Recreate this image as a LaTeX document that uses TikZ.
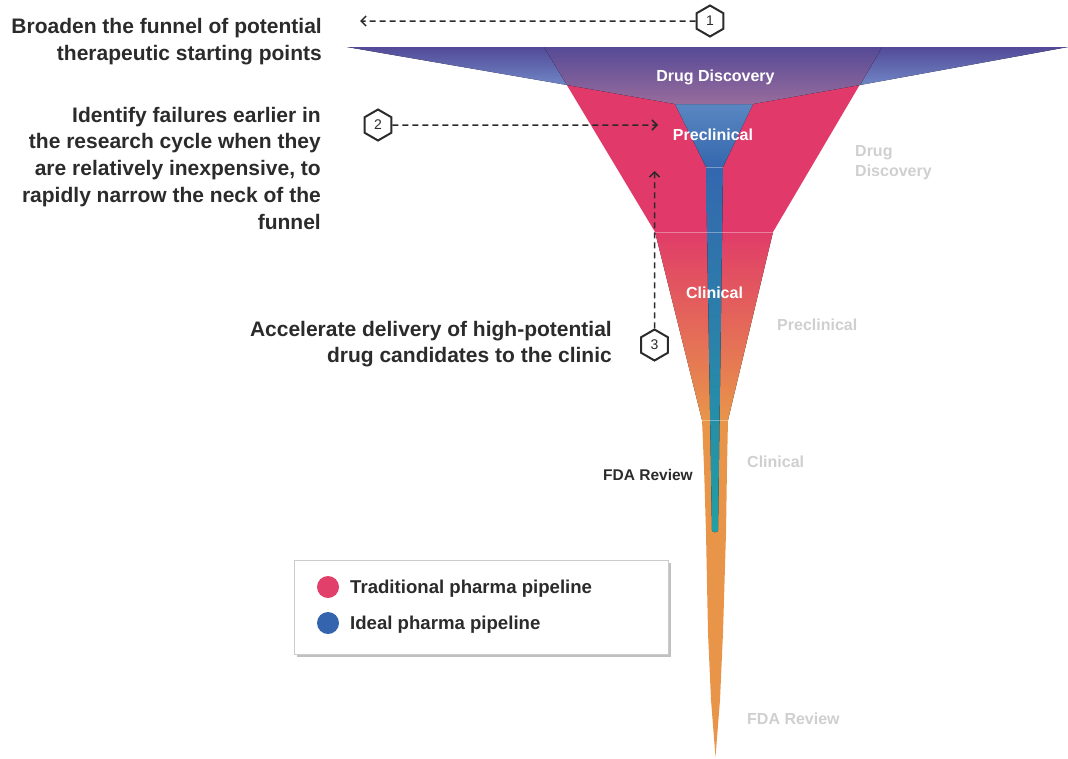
\documentclass[tikz,border=0pt]{standalone}
\usepackage{fontspec}
\setmainfont{Liberation Sans}
\usetikzlibrary{arrows.meta,shapes.geometric,shadows}

\definecolor{ink}{HTML}{2B2B2B}
\definecolor{pharmared}{HTML}{E0396A}
\definecolor{clinred}{HTML}{E03C68}
\definecolor{clinmid}{HTML}{E2655F}
\definecolor{pharmaorange}{HTML}{E8954A}
\definecolor{purpletop}{HTML}{534A98}
\definecolor{wingbottom}{HTML}{6F86C5}
\definecolor{coretop}{HTML}{564A97}
\definecolor{corebottom}{HTML}{986C9C}
\definecolor{bluelight}{HTML}{5A87C2}
\definecolor{bluemid}{HTML}{3467AE}
\definecolor{bluestem}{HTML}{2C7DAE}
\definecolor{tealend}{HTML}{1FA0A6}
\definecolor{stagegray}{HTML}{CFCFCF}
\definecolor{legendred}{HTML}{E0406A}
\definecolor{legendblue}{HTML}{3564AE}

\tikzset{
  annot/.style={inner sep=0pt, text=ink, align=right,
    font=\fontsize{21}{26.7}\selectfont\bfseries},
  stagelabel/.style={inner sep=0pt, text=white, font=\fontsize{16}{19}\selectfont\bfseries},
  graylabel/.style={inner sep=0pt, text=stagegray, align=left,
    font=\fontsize{16}{20}\selectfont\bfseries},
  hexmark/.style={regular polygon, regular polygon sides=6, shape border rotate=30,
    draw=ink, line width=2pt, fill=white, minimum size=31pt, inner sep=0pt,
    text=ink, font=\fontsize{14}{14}\selectfont},
  pointer/.style={draw=ink, line width=1.5pt, dash pattern=on 6pt off 4pt,
    -{Straight Barb[length=5pt,width=10pt,line width=1.5pt]}},
  legendbox/.style={draw=black!20, fill=white, line width=0.8pt,
    minimum width=374pt, minimum height=94pt, inner sep=0pt,
    drop shadow={shadow xshift=2.5pt, shadow yshift=-3pt, opacity=0.45, fill=black!55}},
  legendtext/.style={inner sep=0pt, text=ink, font=\fontsize{18.6}{22}\selectfont\bfseries},
  dot/.style={circle, inner sep=0pt, minimum size=22pt},
  seam/.style={draw=white, opacity=0.35, line width=0.7pt}
}

\begin{document}
\begin{tikzpicture}[x=1pt, y=-1pt]
\useasboundingbox (0,0) rectangle (1068,758);

% traditional pipeline: preclinical body, clinical neck and FDA tail
\fill[pharmared] (544,47) -- (882,47) -- (773,232) -- (655,232) -- cycle;
\fill[top color=clinred, middle color=clinmid, bottom color=pharmaorange]
  (655,232) -- (773,232) -- (728,420) -- (702,420) -- cycle;
\fill[pharmaorange] (702,420) -- (728,420) -- (727,467) -- (726,533) -- (723,633)
  -- (720,700) -- (715.5,757) -- (711,700) -- (708,633) -- (706,533) -- (704,467) -- cycle;

% ideal pipeline: short preclinical taper and narrow stem
\fill[top color=bluelight, bottom color=bluemid]
  (675,104) -- (753,104) -- (723,167) -- (706,167) -- cycle;
\fill[top color=bluemid, middle color=bluestem, bottom color=tealend, rounded corners=2pt]
  (706,167) -- (723,167) -- (718,532) -- (712,532) -- cycle;

% stage seams
\path[seam] (655,232) -- (773,232);
\path[seam] (702,420) -- (728,420);
\path[seam] (706,167) -- (723,167);

% drug discovery mouth: wide wings and the central core
\fill[top color=purpletop, bottom color=wingbottom] (347,47) -- (544,47) -- (567,85) -- cycle;
\fill[top color=purpletop, bottom color=wingbottom] (882,47) -- (1068,47) -- (860,85) -- cycle;
\fill[top color=coretop, bottom color=corebottom]
  (544,47) -- (882,47) -- (860,85) -- (753,104) -- (675,104) -- (567,85) -- cycle;

% stage names inside the funnel
\node[stagelabel, anchor=base] (ddname) at (715.5,81.5) {Drug Discovery};
\node[stagelabel, anchor=base] (prename) at (713,140) {Preclinical};
\node[stagelabel, anchor=base] (clinname) at (714.5,298) {Clinical};
\node[inner sep=0pt, text=ink, font=\fontsize{15.5}{18}\selectfont\bfseries, anchor=base]
  (fdaname) at (648,480) {FDA Review};

% faded stage names on the right
\node[graylabel, anchor=base west] (gdrug) at (855,156.5) {Drug};
\node[graylabel, anchor=base west] (gdisc) at (855,176.5) {Discovery};
\node[graylabel, anchor=base west] (gpre) at (777,330.5) {Preclinical};
\node[graylabel, anchor=base west] (gclin) at (747,467.5) {Clinical};
\node[graylabel, anchor=base west] (gfda) at (747,724.5) {FDA Review};

% annotations
\node[annot, anchor=north east] (broaden) at (322,18)
  {Broaden the funnel of potential\\therapeutic starting points};
\node[annot, anchor=north east] (identify) at (321,106.8)
  {Identify failures earlier in\\the research cycle when they\\are relatively inexpensive, to\\rapidly narrow the neck of the\\funnel};
\node[annot, anchor=north east] (accelerate) at (612,320.6)
  {Accelerate delivery of high-potential\\drug candidates to the clinic};

% numbered markers and their pointers
\node[hexmark] (hex1) at (710,21) {1};
\node[hexmark] (hex2) at (378,125) {2};
\node[hexmark] (hex3) at (654.5,345) {3};
\coordinate (tip1) at (360,21);
\coordinate (tip2) at (658,125);
\coordinate (tip3) at (654.5,171);
\draw[pointer] (hex1.west) -- (tip1);
\draw[pointer] (hex2.east) -- (tip2);
\draw[pointer] (hex3.north) -- (tip3);

% legend
\node[legendbox] (legend) at (481,607) {};
\node[dot, fill=legendred] (dotred) at (328,587) {};
\node[dot, fill=legendblue] (dotblue) at (328,623) {};
\node[legendtext, anchor=base west] (legtrad) at (350,593) {Traditional pharma pipeline};
\node[legendtext, anchor=base west] (legideal) at (350,629.5) {Ideal pharma pipeline};
\end{tikzpicture}
\end{document}
